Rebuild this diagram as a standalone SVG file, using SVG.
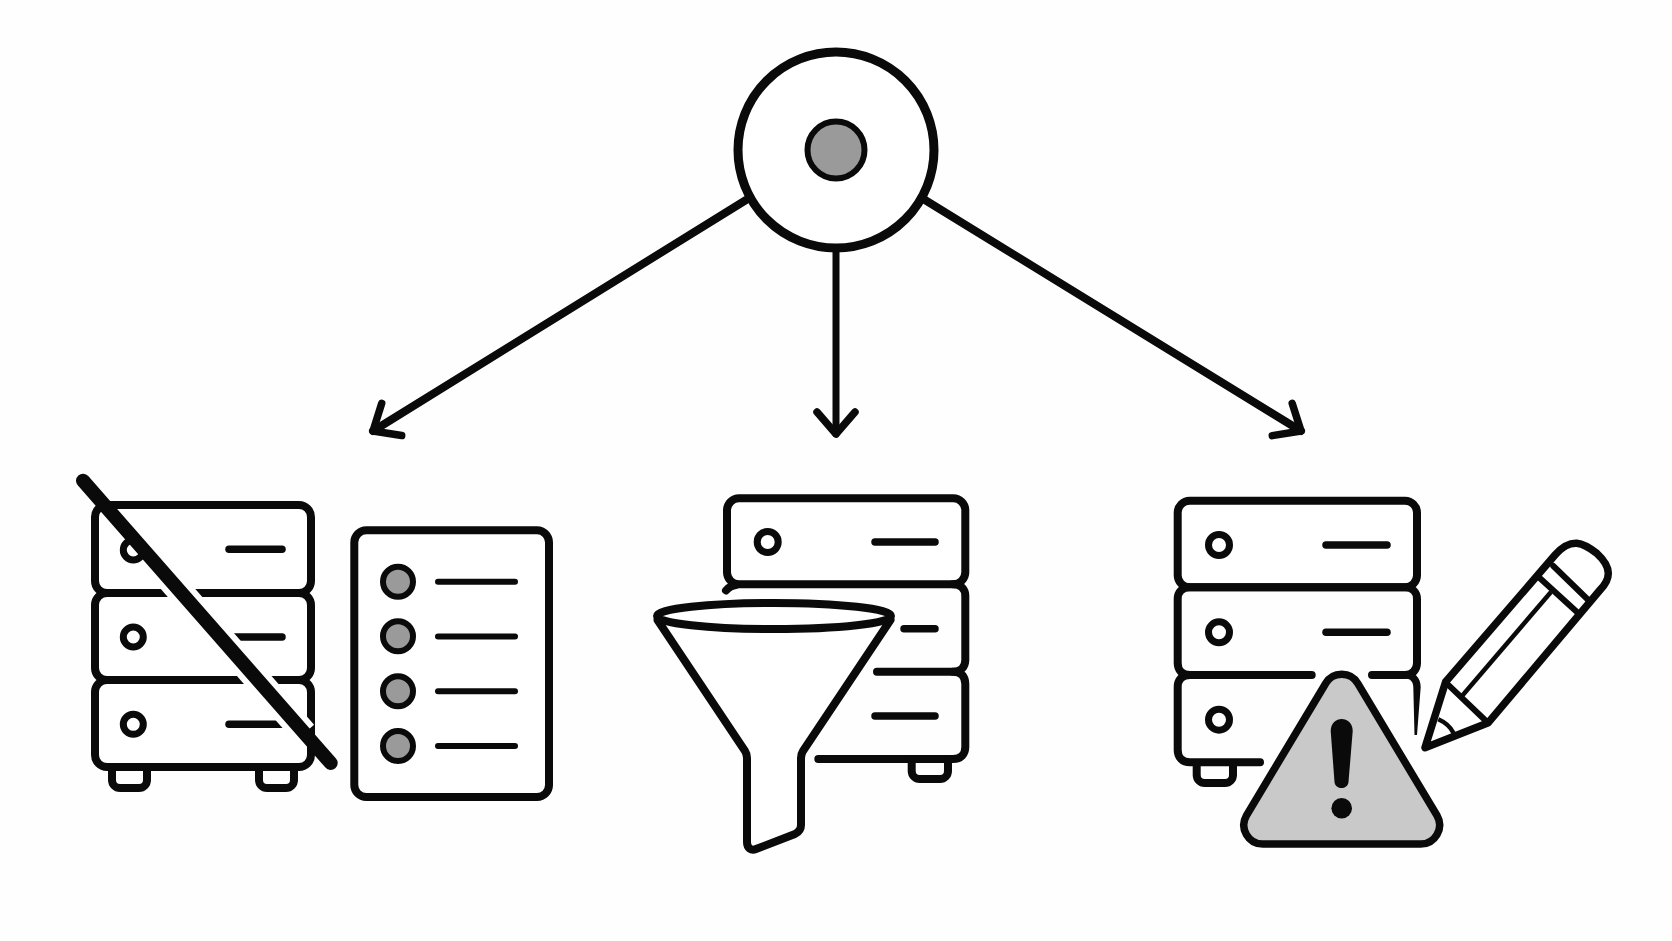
<svg xmlns="http://www.w3.org/2000/svg" width="1672" height="941" viewBox="0 0 1672 941">
<style>
.s{fill:none;stroke:#0a0a0a;stroke-width:8;stroke-linecap:round;stroke-linejoin:round}
.w{fill:#fff}
.d{fill:none;stroke:#0a0a0a;stroke-width:7.500;stroke-linecap:round}
.t{fill:none;stroke:#0a0a0a;stroke-width:6;stroke-linecap:round}
.led{fill:#fff;stroke:#0a0a0a;stroke-width:7}
.dot{fill:#9a9a9a;stroke:#0a0a0a;stroke-width:6}
.conn{fill:none;stroke:#0a0a0a;stroke-width:8;stroke-linecap:round}
.p{fill:none;stroke:#0a0a0a;stroke-width:7.500;stroke-linecap:round;stroke-linejoin:round}
</style>
<defs>
<marker id="head" markerUnits="userSpaceOnUse" viewBox="-30 -30 40 60" refX="0" refY="0" markerWidth="40" markerHeight="60" orient="auto" overflow="visible">
<path d="M-22,-19 L0,0 L-22,19" fill="none" stroke="#0a0a0a" stroke-width="7.500" stroke-linecap="round" stroke-linejoin="round"/>
</marker>
</defs>
<rect width="1672" height="941" fill="#fefefe"/>
<g id="connectors">
<line class="conn" x1="746" y1="200" x2="373" y2="431" marker-end="url(#head)"/>
<line class="conn" x1="836" y1="250" x2="836" y2="434" style="stroke-width:7" marker-end="url(#head)"/>
<line class="conn" x1="925" y1="200" x2="1301" y2="431" marker-end="url(#head)"/>
</g>
<g id="hub">
<circle class="w" cx="836" cy="150" r="98" stroke="#0a0a0a" stroke-width="9"/>
<circle class="dot" cx="836" cy="150" r="28.500"/>
</g>
<g id="server-struck">
<rect class="s w" x="95" y="505" width="216" height="88" rx="12"/>
<rect class="s w" x="95" y="593" width="216" height="87" rx="12"/>
<rect class="s w" x="95" y="680" width="216" height="87" rx="12"/>
<path class="s" d="M112,768V780a8,8 0 0 0 8,8H139a8,8 0 0 0 8,-8V768"/>
<path class="s" d="M259,768V780a8,8 0 0 0 8,8H286a8,8 0 0 0 8,-8V768"/>
<circle class="led" cx="133.300" cy="550" r="10"/>
<circle class="led" cx="133.300" cy="637" r="10"/>
<circle class="led" cx="133.300" cy="724.300" r="10"/>
<line class="d" x1="229" y1="549.300" x2="282" y2="549.300"/>
<line class="d" x1="229" y1="637" x2="282" y2="637"/>
<line class="d" x1="229" y1="724.300" x2="282" y2="724.300"/>
<line x1="149.800" y1="556.700" x2="304.300" y2="733.300" stroke="#fefefe" stroke-width="26"/>
<line x1="83" y1="480.700" x2="330.700" y2="763" stroke="#0a0a0a" stroke-width="14" stroke-linecap="round"/>
</g>
<g id="list-panel">
<rect class="s w" x="354.300" y="530.300" width="194.700" height="266.700" rx="12"/>
<circle class="dot" cx="398" cy="581.700" r="15"/>
<circle class="dot" cx="398" cy="636.300" r="15"/>
<circle class="dot" cx="398" cy="691.300" r="15"/>
<circle class="dot" cx="398" cy="746" r="15"/>
<line class="t" x1="438" y1="581.700" x2="515" y2="581.700"/>
<line class="t" x1="438" y1="636.500" x2="515" y2="636.500"/>
<line class="t" x1="438" y1="691.300" x2="515" y2="691.300"/>
<line class="t" x1="438" y1="746" x2="515" y2="746"/>
</g>
<g id="server-filtered">
<rect class="s w" x="727" y="498.300" width="238.300" height="86" rx="12"/>
<path class="s" d="M736,585C731,585.500 728,588 726,590.500"/>
<path class="s" d="M953,584.300C961,584.300 965.300,589 965.300,596V660C965.300,667 961,671.700 953,671.700H877"/>
<path class="s" d="M953,671.700C961,671.700 965.300,676 965.300,684V747C965.300,754 961,759 953,759H818.300"/>
<path class="s" d="M911.700,760V771a8,8 0 0 0 8,8H940a8,8 0 0 0 8,-8V760"/>
<circle class="led" cx="767.700" cy="542" r="10.500"/>
<line class="d" x1="875" y1="542" x2="935" y2="542"/>
<line class="d" x1="904" y1="628.700" x2="935" y2="628.700"/>
<line class="d" x1="875" y1="716" x2="935" y2="716"/>
</g>
<g id="funnel">
<path class="s w" d="M657.500,620L745,751Q747,754 747,758V842C747,848 751,851 756,849L795,834Q801,831 801,825V758Q801,754 803,751L890.500,620Z"/>
<ellipse class="s w" cx="774" cy="616" rx="117" ry="13"/>
</g>
<g id="server-warning">
<rect class="s w" x="1177.700" y="500.700" width="239.300" height="86.600" rx="12"/>
<path class="s" d="M1311.700,675H1190C1182,675 1177.700,670 1177.700,663V599C1177.700,592 1182,587.300 1190,587.300H1405C1412,587.300 1417,592 1417,599V663C1417,670 1412,675 1405,675H1372"/>
<path class="s" d="M1190,675C1182,675 1177.700,680 1177.700,687V750C1177.700,757 1182,762.300 1190,762.300H1260"/>
<path d="M1406,671.500C1415,671.500 1420.700,678 1420.700,687L1417,735H1414.500L1413.300,687C1413.300,682 1410,678.500 1406,678.500Z" fill="#0a0a0a"/>
<path class="s" d="M1196.700,763V775a8,8 0 0 0 8,8H1225a8,8 0 0 0 8,-8V763"/>
<circle class="led" cx="1219" cy="545" r="10.500"/>
<circle class="led" cx="1219" cy="632.300" r="10.500"/>
<circle class="led" cx="1219" cy="719.700" r="10.500"/>
<line class="d" x1="1326" y1="545" x2="1387" y2="545"/>
<line class="d" x1="1326" y1="632.300" x2="1387" y2="632.300"/>
</g>
<g id="warning-triangle">
<path d="M1325.500,683.700A18.700,18.700 0 0 1 1357.900,683.700L1437,815.500A19,19 0 0 1 1420.500,844H1262.900A19,19 0 0 1 1246.400,815.500Z" fill="#c9c9c9" stroke="#0a0a0a" stroke-width="7.500" stroke-linejoin="round"/>
<path d="M1330.700,731C1330.700,715 1352.700,715 1352.700,731L1348.500,782C1347.500,790 1335.500,790 1334.500,782Z" fill="#0a0a0a"/>
<circle cx="1341.700" cy="808.300" r="10.300" fill="#0a0a0a"/>
</g>
<g id="pencil">
<path class="p" style="fill:#fff" d="M1445.700,681.700L1555,555C1563,546 1569,543 1576.700,543.300C1584,544 1590,548 1596.700,553.300C1604,560 1608.300,566 1608.300,573.300C1608.300,580 1605,585 1600,590L1488.300,722.700L1425,747.700Z"/>
<line class="t" x1="1553.300" y1="566" x2="1588.300" y2="600"/>
<line class="t" x1="1540" y1="578.300" x2="1578.300" y2="613.300"/>
<line class="t" x1="1446.700" y1="683.300" x2="1485" y2="720"/>
<line x1="1551" y1="592" x2="1462" y2="696" stroke="#0a0a0a" stroke-width="4.500"/>
<path d="M1438.300,719.300Q1449,724 1453.500,733" fill="none" stroke="#0a0a0a" stroke-width="4.500"/>
</g>
</svg>
